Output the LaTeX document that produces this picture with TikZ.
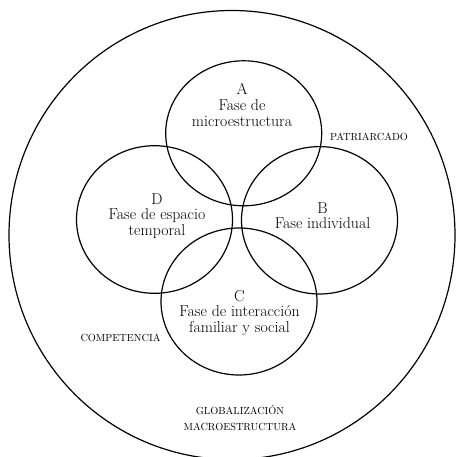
\documentclass[tikz,border=0pt]{standalone}
\begin{document}
\begin{tikzpicture}[x=1pt,y=-1pt,
  ring/.style={draw,line width=1.2pt},
  phase/.style={align=center,inner sep=0pt,font=\fontsize{15.8}{15.6}\selectfont},
  ctx/.style={align=center,inner sep=0pt,font=\fontsize{10.3}{15.7}\selectfont}]
\useasboundingbox (0,0) rectangle (455,457);
\draw[ring] (232,235) ellipse [x radius=223, y radius=224.5];
\draw[ring] (243.7,133.3) ellipse [x radius=78, y radius=72.5];
\draw[ring] (154.5,219.5) ellipse [x radius=78, y radius=73.8];
\draw[ring] (319.5,220.3) ellipse [x radius=78, y radius=73.7];
\draw[ring] (239,301.5) ellipse [x radius=78, y radius=73.5];
\node[phase] (A) at (242,105) {A\\Fase de\\microestructura};
\node[phase] (D) at (157,216) {D\\Fase de espacio\\temporal};
\node[phase] (B) at (322.5,215.5) {B\\Fase individual};
\node[phase] (C) at (239.5,313) {C\\Fase de interacción\\familiar y social};
\node[ctx] (pat) at (369,137) {PATRIARCADO};
\node[ctx] (com) at (120.5,338) {COMPETENCIA};
\node[ctx] (glo) at (240,418) {GLOBALIZACIÓN\\MACROESTRUCTURA};
\end{tikzpicture}
\end{document}
